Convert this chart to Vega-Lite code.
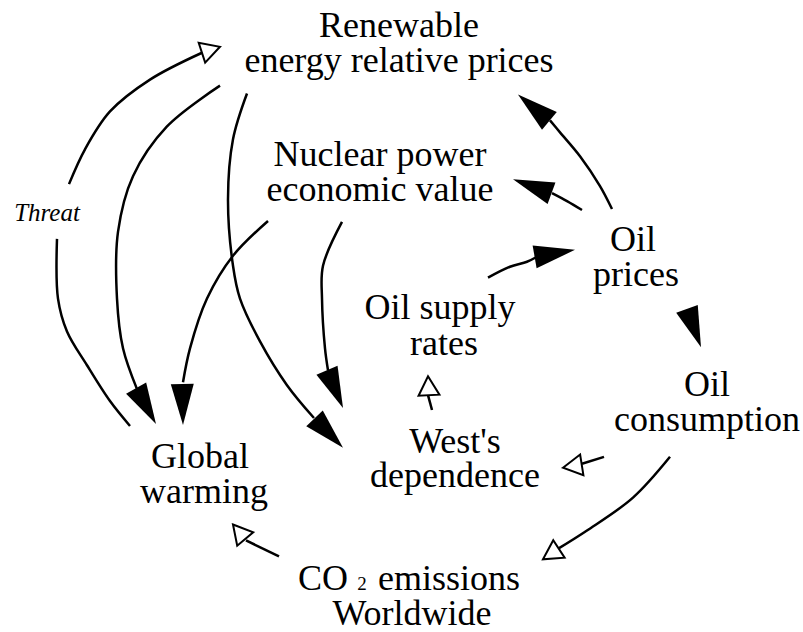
{
  "$schema": "https://vega.github.io/schema/vega-lite/v6.json",
  "width": 803,
  "height": 632,
  "padding": 0,
  "autosize": {"type": "fit", "contains": "padding"},
  "background": "white",
  "config": {"view": {"stroke": null}},
  "datasets": {
    "curves": [
      {"c": "threatUp", "i": 0, "x": 69, "y": 185},
      {"c": "threatUp", "i": 1, "x": 85, "y": 150},
      {"c": "threatUp", "i": 2, "x": 110, "y": 112},
      {"c": "threatUp", "i": 3, "x": 150, "y": 80},
      {"c": "threatUp", "i": 4, "x": 202, "y": 53},
      {"c": "threatLow", "i": 0, "x": 57, "y": 240},
      {"c": "threatLow", "i": 1, "x": 58, "y": 300},
      {"c": "threatLow", "i": 2, "x": 67, "y": 333},
      {"c": "threatLow", "i": 3, "x": 87, "y": 367},
      {"c": "threatLow", "i": 4, "x": 110, "y": 403},
      {"c": "threatLow", "i": 5, "x": 130, "y": 428},
      {"c": "renGW", "i": 0, "x": 220, "y": 86},
      {"c": "renGW", "i": 1, "x": 167, "y": 127},
      {"c": "renGW", "i": 2, "x": 133, "y": 177},
      {"c": "renGW", "i": 3, "x": 118, "y": 233},
      {"c": "renGW", "i": 4, "x": 117, "y": 300},
      {"c": "renGW", "i": 5, "x": 123, "y": 350},
      {"c": "renGW", "i": 6, "x": 137, "y": 391},
      {"c": "renWest", "i": 0, "x": 247, "y": 94},
      {"c": "renWest", "i": 1, "x": 233, "y": 140},
      {"c": "renWest", "i": 2, "x": 228, "y": 200},
      {"c": "renWest", "i": 3, "x": 233, "y": 267},
      {"c": "renWest", "i": 4, "x": 240, "y": 300},
      {"c": "renWest", "i": 5, "x": 260, "y": 343},
      {"c": "renWest", "i": 6, "x": 287, "y": 387},
      {"c": "renWest", "i": 7, "x": 314, "y": 420},
      {"c": "nucGW", "i": 0, "x": 268, "y": 222},
      {"c": "nucGW", "i": 1, "x": 233, "y": 257},
      {"c": "nucGW", "i": 2, "x": 207, "y": 300},
      {"c": "nucGW", "i": 3, "x": 190, "y": 350},
      {"c": "nucGW", "i": 4, "x": 183, "y": 384},
      {"c": "nucWest", "i": 0, "x": 342, "y": 223},
      {"c": "nucWest", "i": 1, "x": 323, "y": 267},
      {"c": "nucWest", "i": 2, "x": 322, "y": 300},
      {"c": "nucWest", "i": 3, "x": 325, "y": 350},
      {"c": "nucWest", "i": 4, "x": 328, "y": 372},
      {"c": "oilRen", "i": 0, "x": 612, "y": 210},
      {"c": "oilRen", "i": 1, "x": 600, "y": 187},
      {"c": "oilRen", "i": 2, "x": 580, "y": 157},
      {"c": "oilRen", "i": 3, "x": 560, "y": 133},
      {"c": "oilRen", "i": 4, "x": 550, "y": 121},
      {"c": "oilNuc", "i": 0, "x": 582, "y": 211},
      {"c": "oilNuc", "i": 1, "x": 567, "y": 202},
      {"c": "oilNuc", "i": 2, "x": 552, "y": 194},
      {"c": "supOil", "i": 0, "x": 488, "y": 279},
      {"c": "supOil", "i": 1, "x": 510, "y": 268},
      {"c": "supOil", "i": 2, "x": 527, "y": 263},
      {"c": "supOil", "i": 3, "x": 537, "y": 258},
      {"c": "westSup", "i": 0, "x": 432, "y": 412},
      {"c": "westSup", "i": 1, "x": 428, "y": 397},
      {"c": "consWest", "i": 0, "x": 604, "y": 459},
      {"c": "consWest", "i": 1, "x": 582, "y": 466},
      {"c": "consCO2", "i": 0, "x": 670, "y": 459},
      {"c": "consCO2", "i": 1, "x": 633, "y": 500},
      {"c": "consCO2", "i": 2, "x": 587, "y": 533},
      {"c": "consCO2", "i": 3, "x": 557, "y": 552},
      {"c": "co2GW", "i": 0, "x": 279, "y": 559},
      {"c": "co2GW", "i": 1, "x": 246, "y": 543}
    ],
    "heads": [
      {"kind": "open", "x": 220, "y": 47, "angle": 72},
      {"kind": "filled", "x": 156, "y": 426, "angle": 151},
      {"kind": "filled", "x": 343, "y": 450, "angle": 136},
      {"kind": "filled", "x": 183, "y": 427, "angle": 179},
      {"kind": "filled", "x": 343, "y": 410, "angle": 157},
      {"kind": "filled", "x": 518, "y": 95, "angle": -50},
      {"kind": "filled", "x": 513, "y": 180, "angle": -70},
      {"kind": "filled", "x": 575, "y": 251, "angle": 80},
      {"kind": "filled", "x": 701, "y": 349, "angle": 160},
      {"kind": "open", "x": 428, "y": 378, "angle": -3},
      {"kind": "open", "x": 563, "y": 470, "angle": -99},
      {"kind": "open", "x": 543, "y": 562, "angle": -123},
      {"kind": "open", "x": 233, "y": 527, "angle": -40}
    ],
    "labels": [
      {"t": "Renewable", "x": 399, "y": 37, "s": 36},
      {"t": "energy relative prices", "x": 399, "y": 72, "s": 36},
      {"t": "Nuclear power", "x": 380, "y": 167, "s": 36},
      {"t": "economic value", "x": 380, "y": 202, "s": 36},
      {"t": "Oil", "x": 633, "y": 252, "s": 36},
      {"t": "prices", "x": 636, "y": 287, "s": 36},
      {"t": "Oil supply", "x": 440, "y": 321, "s": 36},
      {"t": "rates", "x": 444, "y": 357, "s": 36},
      {"t": "Oil", "x": 707, "y": 398, "s": 36},
      {"t": "consumption", "x": 707, "y": 433, "s": 36},
      {"t": "West's", "x": 455, "y": 455, "s": 36},
      {"t": "dependence", "x": 455, "y": 489, "s": 36},
      {"t": "Global", "x": 200, "y": 470, "s": 36},
      {"t": "warming", "x": 204, "y": 505, "s": 36},
      {"t": "CO", "x": 323, "y": 593, "s": 36},
      {"t": "2", "x": 362, "y": 593, "s": 19},
      {"t": "emissions", "x": 449, "y": 593, "s": 36},
      {"t": "Worldwide", "x": 412, "y": 628, "s": 36}
    ]
  },
  "layer": [
    {
      "data": {"name": "curves"},
      "mark": {"type": "line", "interpolate": "catmull-rom", "color": "black", "strokeWidth": 2.5},
      "encoding": {
        "x": {"field": "x", "type": "quantitative", "scale": {"domain": [0, 803], "nice": false, "zero": false}, "axis": null},
        "y": {"field": "y", "type": "quantitative", "scale": {"domain": [0, 632], "nice": false, "zero": false, "reverse": true}, "axis": null},
        "detail": {"field": "c", "type": "nominal"},
        "order": {"field": "i", "type": "quantitative"}
      }
    },
    {
      "data": {"name": "heads"},
      "transform": [{"filter": {"field": "kind", "equal": "filled"}}],
      "mark": {"type": "point", "shape": "M0,0L0.28,1L-0.28,1Z", "filled": true, "color": "black", "opacity": 1, "size": 6724},
      "encoding": {
        "x": {"field": "x", "type": "quantitative"},
        "y": {"field": "y", "type": "quantitative"},
        "angle": {"field": "angle", "type": "quantitative", "scale": null}
      }
    },
    {
      "data": {"name": "heads"},
      "transform": [{"filter": {"field": "kind", "equal": "open"}}],
      "mark": {"type": "point", "shape": "M0,0L0.55,1L-0.55,1Z", "filled": true, "fill": "white", "stroke": "black", "strokeWidth": 2, "opacity": 1, "size": 1444},
      "encoding": {
        "x": {"field": "x", "type": "quantitative"},
        "y": {"field": "y", "type": "quantitative"},
        "angle": {"field": "angle", "type": "quantitative", "scale": null}
      }
    },
    {
      "data": {"name": "labels"},
      "mark": {"type": "text", "font": "Liberation Serif", "align": "center", "baseline": "alphabetic", "color": "black"},
      "encoding": {
        "x": {"field": "x", "type": "quantitative"},
        "y": {"field": "y", "type": "quantitative"},
        "text": {"field": "t", "type": "nominal"},
        "size": {"field": "s", "type": "quantitative", "scale": null}
      }
    },
    {
      "data": {"values": [{"t": "Threat", "x": 47, "y": 222}]},
      "mark": {"type": "text", "font": "Liberation Serif", "fontStyle": "italic", "fontSize": 25, "align": "center", "baseline": "alphabetic", "color": "black"},
      "encoding": {
        "x": {"field": "x", "type": "quantitative"},
        "y": {"field": "y", "type": "quantitative"},
        "text": {"field": "t", "type": "nominal"}
      }
    }
  ]
}
